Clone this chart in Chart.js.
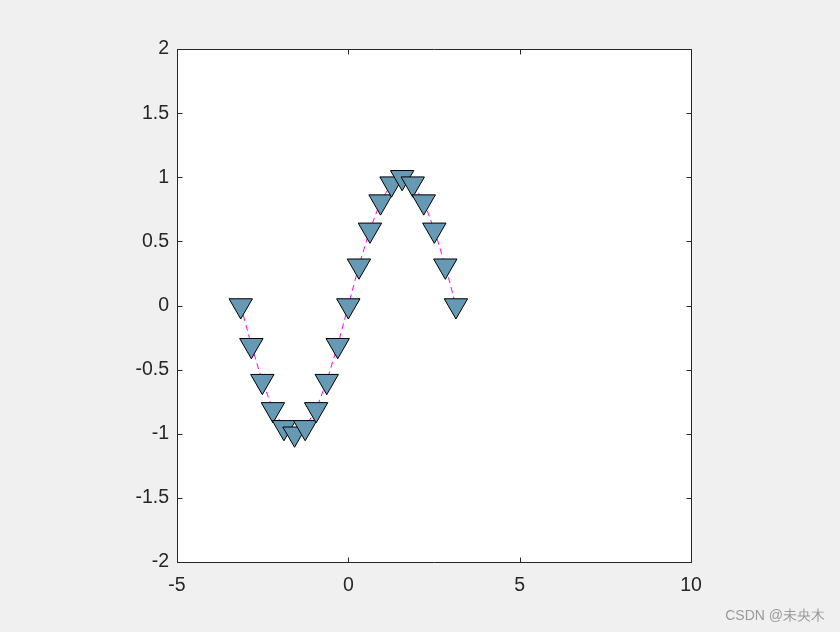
<!DOCTYPE html>
<html>
<head>
<meta charset="utf-8">
<script src="https://cdn.jsdelivr.net/npm/chart.js@4/dist/chart.umd.min.js"></script>
<style>
  body { margin: 0; background: #f0f0f0; }
  #wrap { position: relative; width: 840px; height: 632px; }
  #mark { position: absolute; right: 15px; bottom: 7px; font: 14px "Liberation Sans", Arial, sans-serif; color: #9a9a9a; }
</style>
</head>
<body>
<div id="wrap">
  <canvas id="c" width="840" height="632"></canvas>
  <div id="mark">CSDN @未央木</div>
</div>
<script>
// sampled points of the curve
const xValues = [-3.14, -2.83, -2.51, -2.20, -1.88, -1.57, -1.26, -0.94, -0.63, -0.31, 0, 0.31, 0.63, 0.94, 1.26, 1.57, 1.88, 2.20, 2.51, 2.83, 3.14];
const yValues = [0, -0.31, -0.59, -0.81, -0.95, -1, -0.95, -0.81, -0.59, -0.31, 0, 0.31, 0.59, 0.81, 0.95, 1, 0.95, 0.81, 0.59, 0.31, 0];
const xTicks = [-5, 0, 5, 10];
const yTicks = [-2, -1.5, -1, -0.5, 0, 0.5, 1, 1.5, 2];

const points = xValues.map((x, i) => ({ x, y: yValues[i] }));

// white axes background + box with inward ticks
const axesBox = {
  id: 'axesBox',
  beforeDraw(chart) {
    const { ctx, chartArea: a } = chart;
    ctx.save();
    ctx.fillStyle = '#ffffff';
    ctx.fillRect(a.left, a.top, a.right - a.left, a.bottom - a.top);
    ctx.restore();
  },
  afterDraw(chart) {
    const { ctx, chartArea: a, scales } = chart;
    const len = 5;
    const l = Math.round(a.left) + 0.5, r = Math.round(a.right) + 0.5;
    const t = Math.round(a.top) + 0.5, b = Math.round(a.bottom) + 0.5;
    ctx.save();
    ctx.strokeStyle = '#262626';
    ctx.lineWidth = 1;
    ctx.beginPath();
    ctx.rect(l, t, r - l, b - t);
    scales.x.ticks.forEach(tk => {
      const px = Math.round(scales.x.getPixelForValue(tk.value)) + 0.5;
      ctx.moveTo(px, b); ctx.lineTo(px, b - len);
      ctx.moveTo(px, t); ctx.lineTo(px, t + len);
    });
    scales.y.ticks.forEach(tk => {
      const py = Math.round(scales.y.getPixelForValue(tk.value)) + 0.5;
      ctx.moveTo(l, py); ctx.lineTo(l + len, py);
      ctx.moveTo(r, py); ctx.lineTo(r - len, py);
    });
    ctx.stroke();
    ctx.restore();
  }
};

const tickFont = { family: '"Liberation Sans", Arial, Helvetica, sans-serif', size: 19.5 };

new Chart(document.getElementById('c'), {
  type: 'scatter',
  data: {
    datasets: [{
      data: points,
      showLine: true,
      borderColor: '#ff00ff',
      borderWidth: 1,
      borderDash: [6, 4],
      pointStyle: 'triangle',
      rotation: 180,
      pointRadius: 13.5,
      pointHoverRadius: 13.5,
      pointBackgroundColor: '#6699b3',
      pointBorderColor: '#000000',
      pointBorderWidth: 1,
    }],
  },
  options: {
    responsive: false,
    animation: false,
    events: [],
    layout: { padding: { left: 0, top: 49, right: 149, bottom: 0 } },
    plugins: { legend: { display: false }, tooltip: { enabled: false } },
    scales: {
      x: {
        type: 'linear',
        min: -5, max: 10,
        afterBuildTicks: s => { s.ticks = xTicks.map(v => ({ value: v })); },
        afterFit: s => { s.height = 70; },
        grid: { display: false, drawTicks: false },
        border: { display: false },
        ticks: { color: '#262626', font: tickFont, padding: 12, callback: v => String(v) },
      },
      y: {
        type: 'linear',
        min: -2, max: 2,
        afterBuildTicks: s => { s.ticks = yTicks.map(v => ({ value: v })); },
        afterFit: s => { s.width = 177; },
        grid: { display: false, drawTicks: false },
        border: { display: false },
        ticks: { color: '#262626', font: tickFont, padding: 8, callback: v => String(v) },
      },
    },
  },
  plugins: [axesBox],
});
</script>
</body>
</html>
